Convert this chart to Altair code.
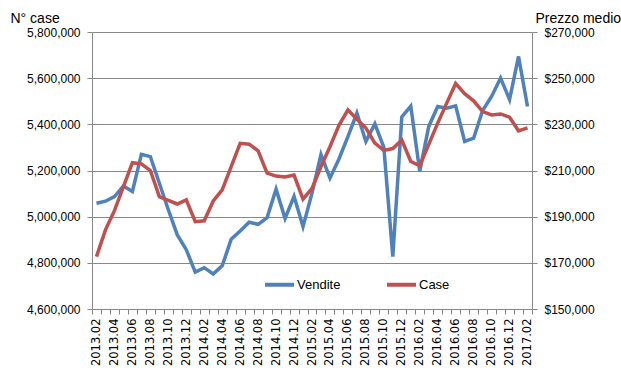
import altair as alt
import pandas as pd

months = [
    "2013.02", "2013.03", "2013.04", "2013.05", "2013.06", "2013.07", "2013.08", "2013.09",
    "2013.10", "2013.11", "2013.12", "2014.01", "2014.02", "2014.03", "2014.04", "2014.05",
    "2014.06", "2014.07", "2014.08", "2014.09", "2014.10", "2014.11", "2014.12", "2015.01",
    "2015.02", "2015.03", "2015.04", "2015.05", "2015.06", "2015.07", "2015.08", "2015.09",
    "2015.10", "2015.11", "2015.12", "2016.01", "2016.02", "2016.03", "2016.04", "2016.05",
    "2016.06", "2016.07", "2016.08", "2016.09", "2016.10", "2016.11", "2016.12", "2017.01",
    "2017.02",
]

vendite = [
    5058000, 5067000, 5087000, 5133000, 5109000, 5270000, 5260000, 5145000,
    5030000, 4921000, 4857000, 4760000, 4779000, 4752000, 4787000, 4902000,
    4938000, 4976000, 4967000, 4996000, 5119000, 4992000, 5088000, 4957000,
    5102000, 5269000, 5167000, 5250000, 5347000, 5449000, 5326000, 5402000,
    5300000, 4827000, 5432000, 5479000, 5196000, 5391000, 5477000, 5470000,
    5480000, 5326000, 5340000, 5460000, 5521000, 5601000, 5507000, 5694000,
    5477000,
]

case = [
    172700, 184300, 192600, 203000, 213400, 212900, 210000, 198700,
    197100, 195500, 197300, 187800, 188200, 196800, 201600, 211700,
    221800, 221400, 218500, 208900, 207600, 207200, 208000, 197600,
    202200, 211700, 220300, 229600, 236300, 232200, 228400, 221900,
    218700, 219500, 223200, 213900, 212100, 221300, 230500, 239200,
    247700, 243300, 240200, 235500, 234100, 234500, 233100, 227200,
    228500,
]

series_names = ["Vendite", "Case"]
series_colors = ["#4F81BD", "#C0504D"]

left_ticks = [4600000, 4800000, 5000000, 5200000, 5400000, 5600000, 5800000]
right_ticks = [150000, 170000, 190000, 210000, 230000, 250000, 270000]

df_v = pd.DataFrame({"month": months, "value": vendite, "series": "Vendite"})
df_c = pd.DataFrame({"month": months, "value": case, "series": "Case"})

FONT = "Liberation Sans"
GRID = "#888888"

x_enc = alt.X(
    "month:O",
    bandPosition=0.5,
    sort=months,
    scale=alt.Scale(type="band", paddingInner=0, paddingOuter=0),
    axis=alt.Axis(
        title=None,
        labelAngle=-90,
        labelExpr="toNumber(substring(datum.value, 5, 7)) % 2 == 0 ? datum.label : ''",
        labelOverlap=False,
        labelFont="DejaVu Sans",
        labelFontSize=11.5,
        labelColor="#000000",
        labelPadding=4,
        tickBand="extent",
        tickSize=5,
        tickColor=GRID,
        domainColor=GRID,
        grid=False,
    ),
)

color_enc = alt.Color(
    "series:N",
    scale=alt.Scale(domain=series_names, range=series_colors),
    legend=alt.Legend(
        title=None,
        orient="none",
        direction="horizontal",
        legendX=171,
        legendY=236,
        symbolType="stroke",
        symbolSize=841,
        symbolStrokeWidth=4,
        labelFont=FONT,
        labelFontSize=13,
        labelColor="#000000",
        labelOffset=1,
        columnPadding=38,
        padding=0,
    ),
)

left = alt.Chart(df_v).mark_line(strokeWidth=3.5).encode(
    x=x_enc,
    y=alt.Y(
        "value:Q",
        scale=alt.Scale(domain=[4600000, 5800000], nice=False, zero=False),
        axis=alt.Axis(
            values=left_ticks,
            format=",.0f",
            title="N° case",
            titleAngle=0,
            titleAlign="left",
            titleBaseline="middle",
            titleX=-82,
            titleY=-14,
            titleFont=FONT,
            titleFontSize=14,
            titleFontWeight="normal",
            titleColor="#000000",
            labelFont=FONT,
            labelFontSize=12,
            labelColor="#000000",
            labelPadding=7,
            tickSize=5,
            tickColor=GRID,
            domainColor=GRID,
            grid=True,
            gridColor=GRID,
            gridWidth=1,
        ),
    ),
    color=color_enc,
)

right = alt.Chart(df_c).mark_line(strokeWidth=3.5).encode(
    x=x_enc,
    y=alt.Y(
        "value:Q",
        scale=alt.Scale(domain=[150000, 270000], nice=False, zero=False),
        axis=alt.Axis(
            orient="right",
            values=right_ticks,
            format="$,.0f",
            title="Prezzo medio",
            titleAngle=0,
            titleAlign="left",
            titleBaseline="middle",
            titleX=3,
            titleY=-14,
            titleFont=FONT,
            titleFontSize=14,
            titleFontWeight="normal",
            titleColor="#000000",
            labelFont=FONT,
            labelFontSize=12,
            labelColor="#000000",
            labelPadding=7,
            tickSize=5,
            tickColor=GRID,
            domainColor=GRID,
            grid=False,
        ),
    ),
    color=color_enc,
)

chart = (
    alt.layer(left, right)
    .resolve_scale(y="independent", color="shared")
    .properties(
        width=440,
        height=277,
        autosize=alt.AutoSizeParams(type="none"),
        padding={"left": 92, "top": 32, "right": 89, "bottom": 68},
        background="#ffffff",
    )
    .configure_view(stroke=None)
)

chart.save("out.html", embed_options={"renderer": "svg", "actions": False})
